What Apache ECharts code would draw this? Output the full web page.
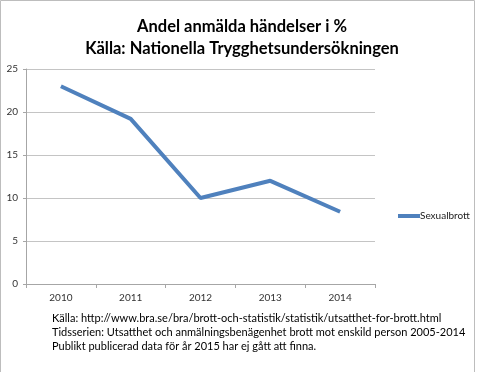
<!DOCTYPE html>
<html><head><meta charset="utf-8">
<script src="https://cdn.jsdelivr.net/npm/echarts@6/dist/echarts.min.js"></script>
<style>html,body{margin:0;padding:0;background:#fff}#c{width:478px;height:372px}</style>
</head><body><div id="c"></div>
<script>
const categories = ['2010', '2011', '2012', '2013', '2014'];
const sexualbrott = [23, 19.2, 10, 12, 8.4];
const yTicks = [0, 5, 10, 15, 20, 25];
const seriesName = 'Sexualbrott';
const titleLines = ['Andel anmälda händelser i %', 'Källa: Nationella Trygghetsundersökningen'];
const notes = [
  'Källa: http://www.bra.se/bra/brott-och-statistik/statistik/utsatthet-for-brott.html',
  'Tidsserien: Utsatthet och anmälningsbenägenhet brott mot enskild person 2005-2014',
  'Publikt publicerad data för år 2015 har ej gått att finna.'
];
const font = 'Lato';
const chart = echarts.init(document.getElementById('c'));
chart.setOption({
  animation: false,
  title: {
    text: titleLines.join('\n'),
    left: 237, top: 11, textAlign: 'center',
    textStyle: {fontFamily: font, fontSize: 16.5, fontWeight: 'bold', color: '#000', lineHeight: 22}
  },
  grid: {left: 26, right: 103, top: 69, bottom: 88},
  xAxis: {
    type: 'category', data: categories, boundaryGap: true,
    axisLine: {lineStyle: {color: '#a6a6a6', width: 1}},
    axisTick: {show: true, length: 4, lineStyle: {color: '#a6a6a6'}},
    axisLabel: {fontFamily: font, fontSize: 10, color: '#333', margin: 9}
  },
  yAxis: {
    type: 'value', min: yTicks[0], max: yTicks[yTicks.length - 1], interval: 5,
    axisLine: {show: true, lineStyle: {color: '#a6a6a6'}},
    axisTick: {show: true, length: 3, lineStyle: {color: '#a6a6a6'}},
    splitLine: {lineStyle: {color: '#c4c4c4', width: 1.2}},
    axisLabel: {fontFamily: font, fontSize: 10, color: '#333', margin: 8}
  },
  legend: {
    data: [{name: seriesName, icon: 'rect'}],
    left: 393, top: 206, itemWidth: 22, itemHeight: 4, itemGap: 0,
    textStyle: {fontFamily: font, fontSize: 10, color: '#222', padding: [0, 0, 0, -5]}
  },
  series: [{
    name: seriesName, type: 'line', data: sexualbrott,
    symbol: 'none', lineStyle: {color: '#4f81bd', width: 4},
    itemStyle: {color: '#4f81bd'}
  }],
  graphic: [
    {type: 'rect', shape: {x: 0.5, y: 0.5, width: 474, height: 380}, style: {fill: 'none', stroke: '#bdbdbd', lineWidth: 1}, silent: true},
    ...notes.map((t, i) => ({
      type: 'text', left: 52, top: 313 + i * 14,
      style: {text: t, fontFamily: font, fontSize: 11, fill: '#000'}
    }))
  ]
});
</script></body></html>
